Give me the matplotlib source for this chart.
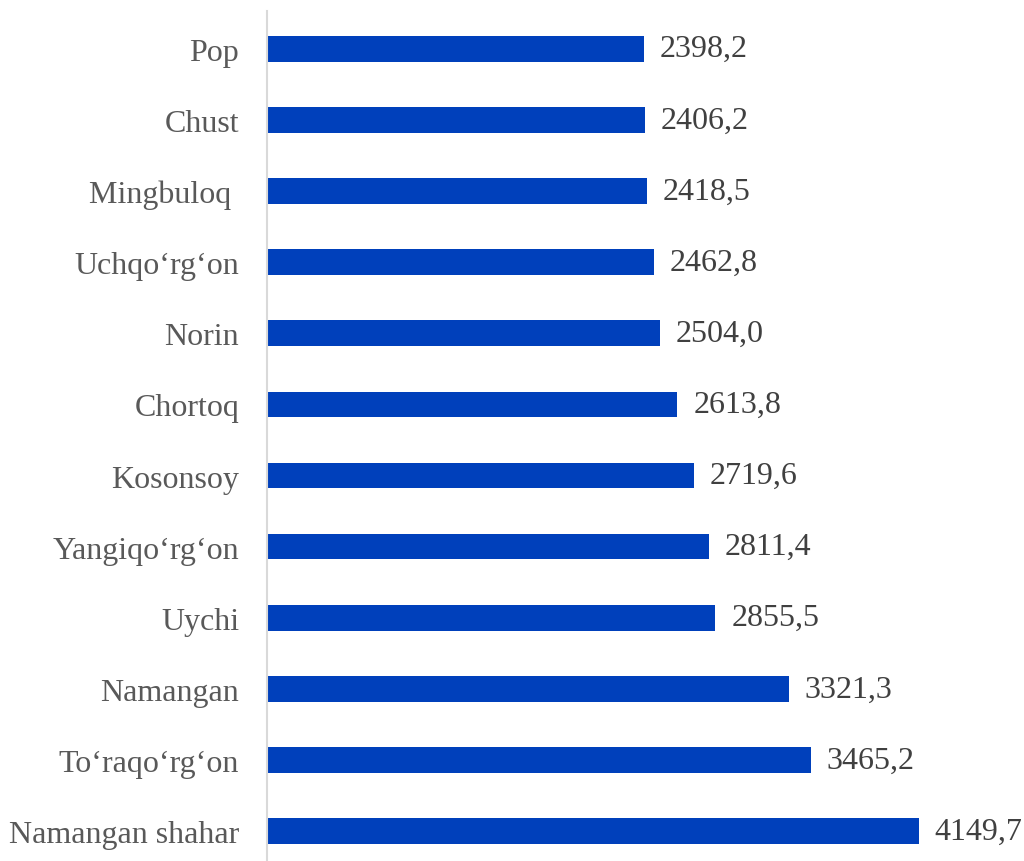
import matplotlib
matplotlib.use("Agg")
import matplotlib.pyplot as plt

# donnees (du haut vers le bas dans le graphique)
tumanlar = ["Pop", "Chust", "Mingbuloq ", "Uchqo\u2018rg\u2018on", "Norin", "Chortoq",
            "Kosonsoy", "Yangiqo\u2018rg\u2018on", "Uychi", "Namangan",
            "To\u2018raqo\u2018rg\u2018on", "Namangan shahar"]
qiymatlar = [2398.2, 2406.2, 2418.5, 2462.8, 2504.0, 2613.8,
             2719.6, 2811.4, 2855.5, 3321.3, 3465.2, 4149.7]

plt.rcParams['font.family'] = ['Liberation Serif', 'DejaVu Serif']

fig = plt.figure(figsize=(10.24, 8.62), dpi=100)
ax = fig.add_axes([0.2607, 0.0, 0.7393, 0.986])

# l'ordre inverse pour que "Pop" soit en haut
noms = tumanlar[::-1]
vals = qiymatlar[::-1]
pos = list(range(len(noms)))

ax.barh(pos, vals, height=0.36, color='#0040BB')

for p, v in zip(pos, vals):
    txt = f"{v:.1f}".replace('.', ',')
    ax.text(v + 100, p, txt, va='center', ha='left', fontsize=23, color='#404040')

ax.set_yticks(pos)
ax.set_yticklabels(noms, fontsize=23, color='#595959')
ax.tick_params(axis='y', length=0, pad=20)
ax.set_xticks([])
ax.set_xlim(0, 4820)
ax.set_ylim(-0.42, 11.53)

for s in ['top', 'right', 'bottom']:
    ax.spines[s].set_visible(False)
ax.spines['left'].set_color('#D9D9D9')
ax.spines['left'].set_linewidth(1.5)

fig.savefig('out.png', dpi=100)
